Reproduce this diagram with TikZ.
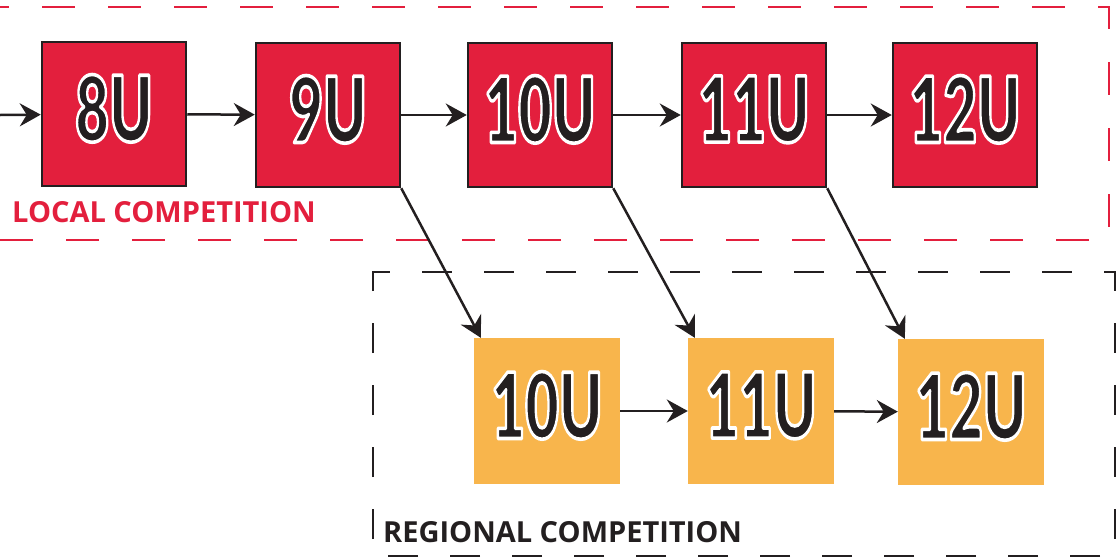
\documentclass[tikz,border=0pt]{standalone}
\usepackage{fontspec}
\setsansfont{Open Sans}
\newfontfamily\agefont{Lato Black}
\usetikzlibrary{arrows.meta}

\definecolor{localred}{HTML}{E31F3D}
\definecolor{regionalorange}{HTML}{F8B54C}
\definecolor{inkblack}{HTML}{231F20}

% black letters with a white rim (fill, then stroke)
\newcommand{\agelabel}[1]{\raisebox{12pt}{\scalebox{0.64}[1]{\special{pdf:literal direct 2 Tr 1 1 1 RG 3.6 w 1 j}\agefont\fontsize{91}{91}\selectfont #1\special{pdf:literal direct 0 Tr}}}}

\tikzset{
  localbox/.style={draw=inkblack, line width=2.5pt, fill=localred, minimum size=144pt, inner sep=0pt, text=inkblack},
  regionalbox/.style={fill=regionalorange, minimum size=146pt, inner sep=0pt, text=inkblack},
  flow/.style={-{Stealth[length=21pt,width=23pt,inset=7pt]}, draw=inkblack, line width=2.5pt},
  tag/.style={anchor=base west, inner sep=0pt, font=\sffamily\bfseries\fontsize{29}{29}\selectfont}
}

\begin{document}
\begin{tikzpicture}[x=1pt,y=-1pt]
                \clip (0,0) rectangle (1116,557);

                \draw[localred, line width=2.5pt, dash pattern=on 33pt off 33pt] (-24,7) -- (1109,7) -- (1109,240) -- (-24,240);
                \draw[inkblack, line width=2.5pt, dash pattern=on 30pt off 32pt] (373,285) -- (373,272) -- (1115,272) -- (1115,556) -- (373,556) -- cycle;

                \node[localbox] (l8) at (114,114) {\agelabel{8U}};
                \node[localbox] (l9) at (328,115) {\agelabel{9U}};
                \node[localbox] (l10) at (540,115) {\agelabel{10U}};
                \node[localbox] (l11) at (754,115) {\agelabel{11U}};
                \node[localbox] (l12) at (965,115) {\agelabel{12U}};
                \node[regionalbox] (r10) at (547,411) {\agelabel{10U}};
                \node[regionalbox] (r11) at (761,411) {\agelabel{11U}};
                \node[regionalbox] (r12) at (971,412) {\agelabel{12U}};
                \coordinate (in) at (0,115);

                \node[tag, text=localred] (localtag) at (12,222) {LOCAL COMPETITION};
                \node[tag, text=inkblack] (regionaltag) at (383,542) {REGIONAL COMPETITION};

                \draw[flow] (in) to (l8);
                \draw[flow] (l8) to (l9);
                \draw[flow] (l9) to (l10);
                \draw[flow] (l10) to (l11);
                \draw[flow] (l11) to (l12);
                \draw[flow] (r10) to (r11);
                \draw[flow] (r11) to (r12);
                \draw[flow] (l9.south east) to ([xshift=7pt]r10.north west);
                \draw[flow] (l10.south east) to ([xshift=7pt]r11.north west);
                \draw[flow] (l11.south east) to ([xshift=7pt]r12.north west);
            \end{tikzpicture}
\end{document}
